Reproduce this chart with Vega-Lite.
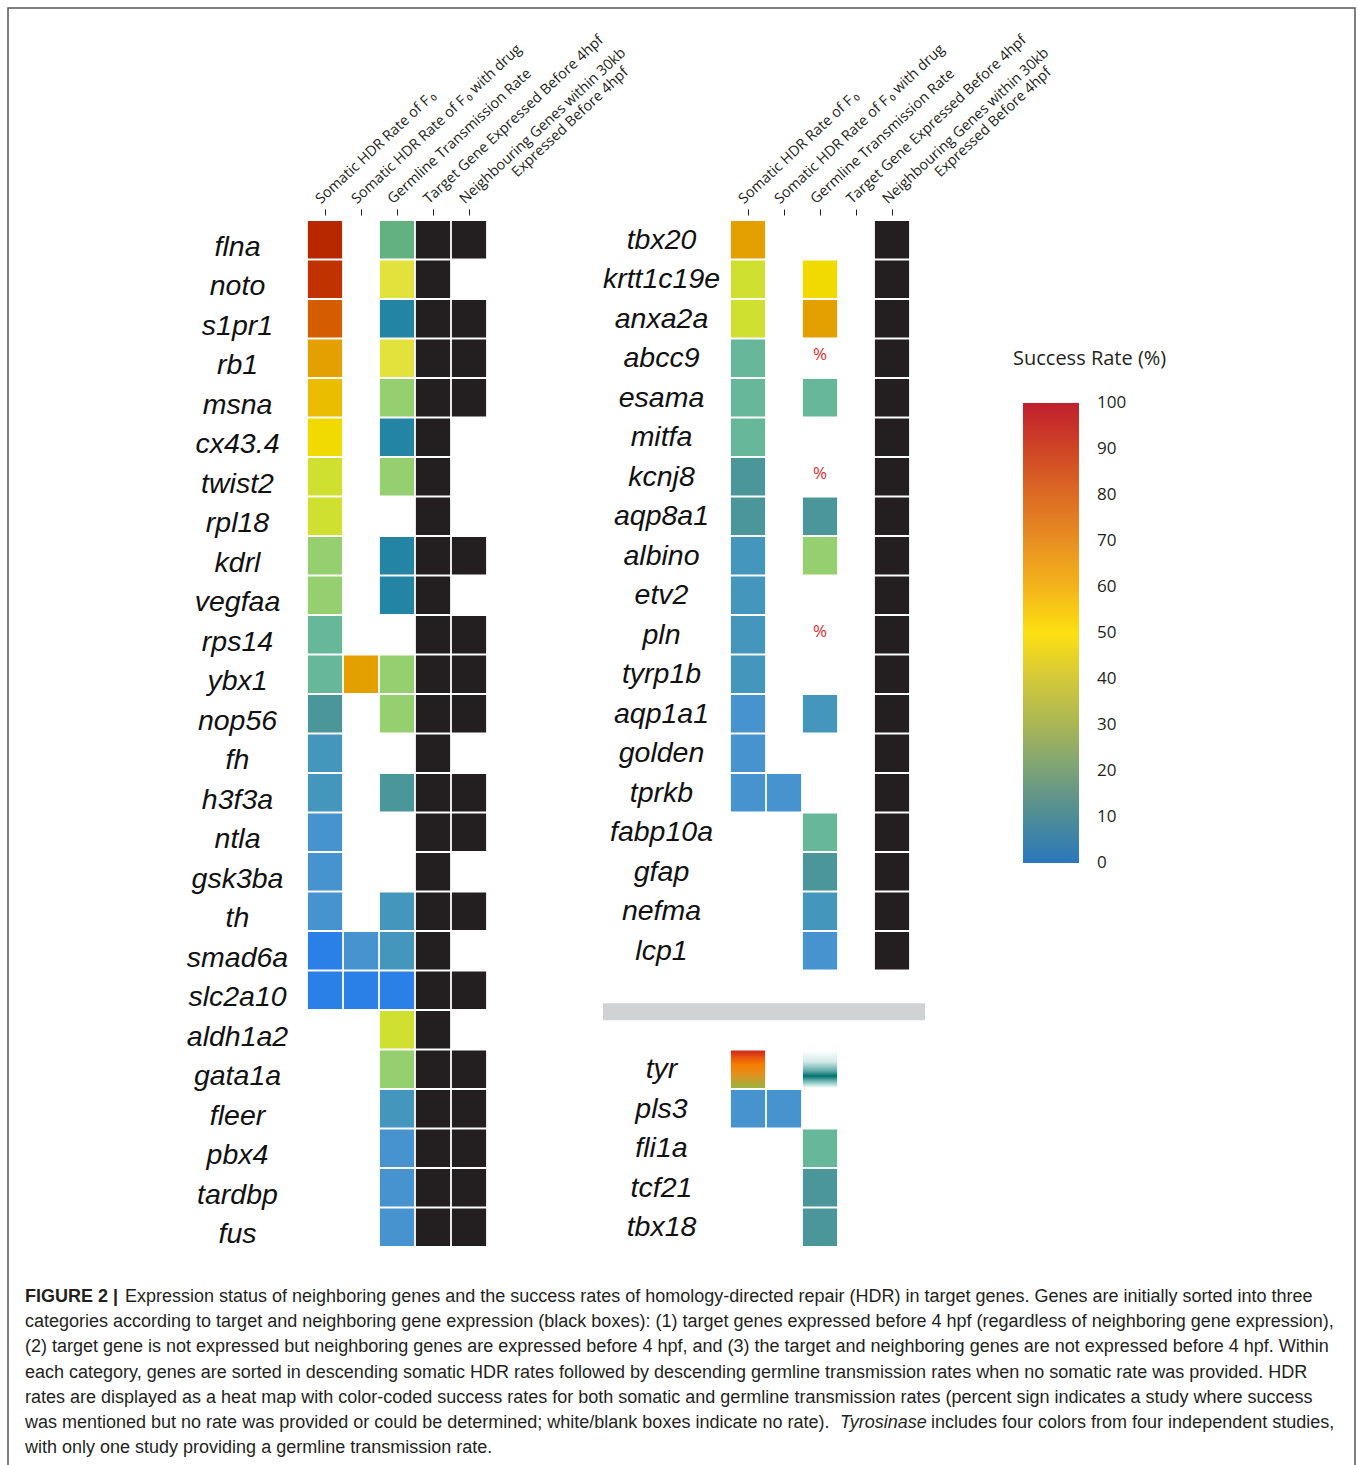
{
  "$schema": "https://vega.github.io/schema/vega-lite/v6.json",
  "width": 1347,
  "height": 1470,
  "autosize": {"type": "none"},
  "padding": {"left": 8, "top": 8, "right": 3, "bottom": 0},
  "background": "white",
  "config": {
    "view": {"stroke": "#555555", "strokeWidth": 1.5},
    "axis": {"labelColor": "#231f20", "title": null, "domain": false, "grid": false}
  },
  "datasets": {
    "genes": [
      {"p": "L", "gene": "flna", "S": 92, "G": 19, "T": 1, "N": 1},
      {"p": "L", "gene": "noto", "S": 85, "G": 40, "T": 1},
      {"p": "L", "gene": "s1pr1", "S": 75, "G": 9, "T": 1, "N": 1},
      {"p": "L", "gene": "rb1", "S": 63, "G": 41, "T": 1, "N": 1},
      {"p": "L", "gene": "msna", "S": 55, "G": 25, "T": 1, "N": 1},
      {"p": "L", "gene": "cx43.4", "S": 48, "G": 9, "T": 1},
      {"p": "L", "gene": "twist2", "S": 35, "G": 25, "T": 1},
      {"p": "L", "gene": "rpl18", "S": 34, "T": 1},
      {"p": "L", "gene": "kdrl", "S": 25, "G": 9, "T": 1, "N": 1},
      {"p": "L", "gene": "vegfaa", "S": 24, "G": 9, "T": 1},
      {"p": "L", "gene": "rps14", "S": 16, "T": 1, "N": 1},
      {"p": "L", "gene": "ybx1", "S": 16, "D": 62, "G": 25, "T": 1, "N": 1},
      {"p": "L", "gene": "nop56", "S": 12, "G": 25, "T": 1, "N": 1},
      {"p": "L", "gene": "fh", "S": 7, "T": 1},
      {"p": "L", "gene": "h3f3a", "S": 7, "G": 12, "T": 1, "N": 1},
      {"p": "L", "gene": "ntla", "S": 4, "T": 1, "N": 1},
      {"p": "L", "gene": "gsk3ba", "S": 4, "T": 1},
      {"p": "L", "gene": "th", "S": 4, "G": 7, "T": 1, "N": 1},
      {"p": "L", "gene": "smad6a", "S": 1, "D": 4, "G": 7, "T": 1},
      {"p": "L", "gene": "slc2a10", "S": 1, "D": 1, "G": 1, "T": 1, "N": 1},
      {"p": "L", "gene": "aldh1a2", "G": 35, "T": 1},
      {"p": "L", "gene": "gata1a", "G": 25, "T": 1, "N": 1},
      {"p": "L", "gene": "fleer", "G": 7, "T": 1, "N": 1},
      {"p": "L", "gene": "pbx4", "G": 4, "T": 1, "N": 1},
      {"p": "L", "gene": "tardbp", "G": 4, "T": 1, "N": 1},
      {"p": "L", "gene": "fus", "G": 4, "T": 1, "N": 1},
      {"p": "R", "gene": "tbx20", "S": 62, "N": 1},
      {"p": "R", "gene": "krtt1c19e", "S": 35, "G": 48, "N": 1},
      {"p": "R", "gene": "anxa2a", "S": 35, "G": 62, "N": 1},
      {"p": "R", "gene": "abcc9", "S": 16, "G": "%", "N": 1},
      {"p": "R", "gene": "esama", "S": 16, "G": 16, "N": 1},
      {"p": "R", "gene": "mitfa", "S": 16, "N": 1},
      {"p": "R", "gene": "kcnj8", "S": 12, "G": "%", "N": 1},
      {"p": "R", "gene": "aqp8a1", "S": 12, "G": 12, "N": 1},
      {"p": "R", "gene": "albino", "S": 7, "G": 25, "N": 1},
      {"p": "R", "gene": "etv2", "S": 7, "N": 1},
      {"p": "R", "gene": "pln", "S": 7, "G": "%", "N": 1},
      {"p": "R", "gene": "tyrp1b", "S": 7, "N": 1},
      {"p": "R", "gene": "aqp1a1", "S": 4, "G": 7, "N": 1},
      {"p": "R", "gene": "golden", "S": 4, "N": 1},
      {"p": "R", "gene": "tprkb", "S": 4, "D": 4, "N": 1},
      {"p": "R", "gene": "fabp10a", "G": 16, "N": 1},
      {"p": "R", "gene": "gfap", "G": 12, "N": 1},
      {"p": "R", "gene": "nefma", "G": 7, "N": 1},
      {"p": "R", "gene": "lcp1", "G": 4, "N": 1},
      {"p": "R", "gene": "tyr", "S": "four studies", "G": "one study"},
      {"p": "R", "gene": "pls3", "S": 4, "D": 4},
      {"p": "R", "gene": "fli1a", "G": 16},
      {"p": "R", "gene": "tcf21", "G": 12},
      {"p": "R", "gene": "tbx18", "G": 12}
    ],
    "caption": [
      {"line": 1, "part": "bold", "text": "FIGURE 2 |"},
      {"line": 1, "part": "after-bold", "text": "Expression status of neighboring genes and the success rates of homology-directed repair (HDR) in target genes. Genes are initially sorted into three"},
      {"line": 2, "part": "plain", "text": "categories according to target and neighboring gene expression (black boxes): (1) target genes expressed before 4 hpf (regardless of neighboring gene expression),"},
      {"line": 3, "part": "plain", "text": "(2) target gene is not expressed but neighboring genes are expressed before 4 hpf, and (3) the target and neighboring genes are not expressed before 4 hpf. Within"},
      {"line": 4, "part": "plain", "text": "each category, genes are sorted in descending somatic HDR rates followed by descending germline transmission rates when no somatic rate was provided. HDR"},
      {"line": 5, "part": "plain", "text": "rates are displayed as a heat map with color-coded success rates for both somatic and germline transmission rates (percent sign indicates a study where success"},
      {"line": 6, "part": "plain", "text": "was mentioned but no rate was provided or could be determined; white/blank boxes indicate no rate)."},
      {"line": 6, "part": "italic", "text": "Tyrosinase"},
      {"line": 6, "part": "after-italic", "text": "includes four colors from four independent studies,"},
      {"line": 7, "part": "plain", "text": "with only one study providing a germline transmission rate."}
    ]
  },
  "resolve": {"scale": {"x": "independent", "y": "independent"}},
  "layer": [
    {
      "data": {"name": "genes"},
      "transform": [{"filter": "datum.p === 'L'"}],
      "layer": [
        {
          "transform": [
            {"fold": ["S", "D", "G"], "as": ["col", "rate"]},
            {"filter": "isNumber(datum.rate)"}
          ],
          "mark": {"type": "rect", "strokeWidth": 0},
          "encoding": {
            "x": {
              "field": "col", "type": "nominal",
              "scale": {"domain": ["S", "D", "G", "T", "N"], "range": [299, 479], "paddingInner": 0.05, "paddingOuter": 0.025},
              "axis": {
                "orient": "top", "offset": -207, "ticks": true, "tickSize": 6, "tickColor": "#231f20", "tickWidth": 1,
                "labelAngle": -43, "labelAlign": "left", "labelBaseline": "alphabetic", "labelOffset": -4, "labelPadding": 5,
                "labelFont": "Open Sans", "labelFontSize": 14.5, "labelLimit": 0, "labelLineHeight": 16, "labelOverlap": false,
                "labelExpr": "datum.value === 'S' ? 'Somatic HDR Rate of F\u2009\u2080' : datum.value === 'D' ? 'Somatic HDR Rate of F\u2009\u2080 with drug' : datum.value === 'G' ? 'Germline Transmission Rate' : datum.value === 'T' ? 'Target Gene Expressed Before 4hpf' : ['Neighbouring Genes within 30kb', '\u200b\u00a0\u00a0\u00a0\u00a0\u00a0\u00a0\u00a0\u00a0\u00a0\u00a0\u00a0\u00a0\u00a0\u00a0\u00a0Expressed Before 4hpf']"
              }
            },
            "y": {
              "field": "gene", "type": "nominal",
              "scale": {"domain": ["flna", "noto", "s1pr1", "rb1", "msna", "cx43.4", "twist2", "rpl18", "kdrl", "vegfaa", "rps14", "ybx1", "nop56", "fh", "h3f3a", "ntla", "gsk3ba", "th", "smad6a", "slc2a10", "aldh1a2", "gata1a", "fleer", "pbx4", "tardbp", "fus"], "range": [212, 1239], "paddingInner": 0.05, "paddingOuter": 0.025},
              "axis": {
                "orient": "left", "offset": -229, "ticks": false, "tickSize": 0, "labelPadding": 0,
                "labelAlign": "center", "labelBaseline": "alphabetic", "labelOffset": 16,
                "labelFont": "Liberation Sans", "labelFontStyle": "italic", "labelFontSize": 28.5, "labelColor": "#111111",
                "labelLimit": 0, "labelOverlap": false
              }
            },
            "fill": {
              "field": "rate", "type": "quantitative",
              "scale": {"type": "threshold", "domain": [2, 5, 8, 10, 14, 18, 21, 30, 38, 45, 52, 58, 68, 80, 88],
                "range": ["#2a80e6", "#4693d0", "#4596bd", "#2384a3", "#4a9699", "#67b89b", "#63b080", "#96cf6f", "#cfe030", "#e2e23c", "#f0da00", "#ebbd00", "#e3a000", "#d65c00", "#c03200", "#b82800"]},
              "legend": null
            },
            "stroke": {
              "field": "rate", "type": "quantitative",
              "scale": {"type": "linear", "domain": [0, 10, 20, 30, 40, 50, 60, 70, 80, 90, 100],
                "range": ["#2a77bd", "#4e8c97", "#7ba278", "#a9b655", "#d3c83a", "#fde011", "#f3b41b", "#e88f21", "#dc6b24", "#cf4526", "#c01f2e"], "interpolate": "rgb"},
              "legend": {
                "orient": "none", "legendX": 1005, "legendY": 341, "direction": "vertical",
                "title": "Success Rate (%)", "titleFont": "Open Sans", "titleFontSize": 20, "titleFontWeight": "normal", "titleColor": "#231f20", "titlePadding": 34,
                "gradientLength": 460, "gradientThickness": 56, "gradientStrokeWidth": 0,
                "values": [0, 10, 20, 30, 40, 50, 60, 70, 80, 90, 100],
                "labelFont": "Open Sans", "labelFontSize": 17, "labelColor": "#231f20", "labelOffset": 18, "labelBaseline": "middle", "labelOverlap": false,
                "encode": {
                  "title": {"update": {"dx": {"value": -10}}},
                  "labels": {"update": {"baseline": {"value": "middle"}}}
                }
              }
            }
          }
        },
        {
          "transform": [
            {"fold": ["T", "N"], "as": ["col", "expr"]},
            {"filter": "datum.expr === 1"}
          ],
          "mark": {"type": "rect", "fill": "#231f20"},
          "encoding": {
            "x": {"field": "col", "type": "nominal"},
            "y": {"field": "gene", "type": "nominal"}
          }
        }
      ]
    },
    {
      "data": {"name": "genes"},
      "transform": [{"filter": "datum.p === 'R'"}],
      "layer": [
        {
          "transform": [
            {"fold": ["S", "D", "G"], "as": ["col", "rate"]},
            {"filter": "isNumber(datum.rate)"}
          ],
          "mark": {"type": "rect"},
          "encoding": {
            "x": {
              "field": "col", "type": "nominal",
              "scale": {"domain": ["S", "D", "G", "T", "N"], "range": [722, 902], "paddingInner": 0.05, "paddingOuter": 0.025},
              "axis": {
                "orient": "top", "offset": -207, "ticks": true, "tickSize": 6, "tickColor": "#231f20", "tickWidth": 1,
                "labelAngle": -43, "labelAlign": "left", "labelBaseline": "alphabetic", "labelOffset": -4, "labelPadding": 5,
                "labelFont": "Open Sans", "labelFontSize": 14.5, "labelLimit": 0, "labelLineHeight": 16, "labelOverlap": false,
                "labelExpr": "datum.value === 'S' ? 'Somatic HDR Rate of F\u2009\u2080' : datum.value === 'D' ? 'Somatic HDR Rate of F\u2009\u2080 with drug' : datum.value === 'G' ? 'Germline Transmission Rate' : datum.value === 'T' ? 'Target Gene Expressed Before 4hpf' : ['Neighbouring Genes within 30kb', '\u200b\u00a0\u00a0\u00a0\u00a0\u00a0\u00a0\u00a0\u00a0\u00a0\u00a0\u00a0\u00a0\u00a0\u00a0\u00a0Expressed Before 4hpf']"
              }
            },
            "y": {
              "field": "gene", "type": "nominal",
              "scale": {"domain": ["tbx20", "krtt1c19e", "anxa2a", "abcc9", "esama", "mitfa", "kcnj8", "aqp8a1", "albino", "etv2", "pln", "tyrp1b", "aqp1a1", "golden", "tprkb", "fabp10a", "gfap", "nefma", "lcp1", " ", "  ", "tyr", "pls3", "fli1a", "tcf21", "tbx18"], "range": [212, 1239], "paddingInner": 0.05, "paddingOuter": 0.025},
              "axis": {
                "orient": "left", "offset": -653, "ticks": false, "tickSize": 0, "labelPadding": 0,
                "labelAlign": "center", "labelBaseline": "alphabetic", "labelOffset": 9,
                "labelFont": "Liberation Sans", "labelFontStyle": "italic", "labelFontSize": 28.5, "labelColor": "#111111",
                "labelLimit": 0, "labelOverlap": false
              }
            },
            "fill": {
              "field": "rate", "type": "quantitative",
              "scale": {"type": "threshold", "domain": [2, 5, 8, 10, 14, 18, 21, 30, 38, 45, 52, 58, 68, 80, 88],
                "range": ["#2a80e6", "#4693d0", "#4596bd", "#2384a3", "#4a9699", "#67b89b", "#63b080", "#96cf6f", "#cfe030", "#e2e23c", "#f0da00", "#ebbd00", "#e3a000", "#d65c00", "#c03200", "#b82800"]},
              "legend": null
            }
          }
        },
        {
          "transform": [
            {"fold": ["T", "N"], "as": ["col", "expr"]},
            {"filter": "datum.expr === 1"}
          ],
          "mark": {"type": "rect", "fill": "#231f20"},
          "encoding": {
            "x": {"field": "col", "type": "nominal"},
            "y": {"field": "gene", "type": "nominal"}
          }
        },
        {
          "transform": [
            {"fold": ["S", "D", "G"], "as": ["col", "rate"]},
            {"filter": "datum.rate === '%'"}
          ],
          "mark": {"type": "text", "color": "#e02b2b", "font": "Open Sans", "fontSize": 17, "baseline": "middle", "dy": -3},
          "encoding": {
            "x": {"field": "col", "type": "nominal"},
            "y": {"field": "gene", "type": "nominal"},
            "text": {"field": "rate"}
          }
        },
        {
          "transform": [
            {"fold": ["S"], "as": ["col", "rate"]},
            {"filter": "datum.rate === 'four studies'"}
          ],
          "mark": {"type": "rect", "fill": {"gradient": "linear", "x1": 0, "y1": 0, "x2": 0, "y2": 1,
            "stops": [{"offset": 0, "color": "#d0261f"}, {"offset": 0.18, "color": "#e8530f"}, {"offset": 0.38, "color": "#f57e00"}, {"offset": 0.62, "color": "#e68e1c"}, {"offset": 1, "color": "#98b43e"}]}},
          "encoding": {
            "x": {"field": "col", "type": "nominal"},
            "y": {"field": "gene", "type": "nominal"}
          }
        },
        {
          "transform": [
            {"fold": ["G"], "as": ["col", "rate"]},
            {"filter": "datum.rate === 'one study'"}
          ],
          "mark": {"type": "rect", "fill": {"gradient": "linear", "x1": 0, "y1": 0, "x2": 0, "y2": 1,
            "stops": [{"offset": 0, "color": "#ffffff"}, {"offset": 0.3, "color": "#d3eae8"}, {"offset": 0.55, "color": "#5ea9a5"}, {"offset": 0.68, "color": "#00716d"}, {"offset": 0.82, "color": "#72b9b4"}, {"offset": 1, "color": "#ffffff"}]}},
          "encoding": {
            "x": {"field": "col", "type": "nominal"},
            "y": {"field": "gene", "type": "nominal"}
          }
        },
        {
          "data": {"values": [{"separator": "category 3"}]},
          "mark": {"type": "rule", "color": "#d1d2d4", "strokeWidth": 17, "strokeCap": "butt"},
          "encoding": {
            "x": {"datum": "S", "bandPosition": -3.74},
            "x2": {"datum": "N", "bandPosition": 1.465},
            "y": {"datum": "  ", "bandPosition": 0.02}
          }
        }
      ]
    },
    {
      "data": {"name": "caption"},
      "encoding": {
        "x": {"datum": 0, "type": "quantitative", "scale": {"domain": [0, 1], "range": [17, 1330]}, "axis": null},
        "y": {"field": "line", "type": "quantitative", "scale": {"domain": [1, 7], "range": [1289, 1440]}, "axis": null},
        "text": {"field": "text"}
      },
      "layer": [
        {
          "transform": [{"filter": "datum.part === 'plain'"}],
          "mark": {"type": "text", "align": "left", "baseline": "middle", "font": "Liberation Sans", "fontSize": 18, "color": "#231f20"}
        },
        {
          "transform": [{"filter": "datum.part === 'bold'"}],
          "mark": {"type": "text", "align": "left", "baseline": "middle", "font": "Liberation Sans", "fontSize": 18, "fontWeight": "bold", "color": "#231f20"}
        },
        {
          "transform": [{"filter": "datum.part === 'after-bold'"}],
          "mark": {"type": "text", "align": "left", "baseline": "middle", "font": "Liberation Sans", "fontSize": 18, "color": "#231f20", "dx": 100}
        },
        {
          "transform": [{"filter": "datum.part === 'italic'"}],
          "mark": {"type": "text", "align": "left", "baseline": "middle", "font": "Liberation Sans", "fontSize": 18, "fontStyle": "italic", "color": "#231f20", "dx": 815}
        },
        {
          "transform": [{"filter": "datum.part === 'after-italic'"}],
          "mark": {"type": "text", "align": "left", "baseline": "middle", "font": "Liberation Sans", "fontSize": 18, "color": "#231f20", "dx": 906}
        }
      ]
    }
  ]
}
